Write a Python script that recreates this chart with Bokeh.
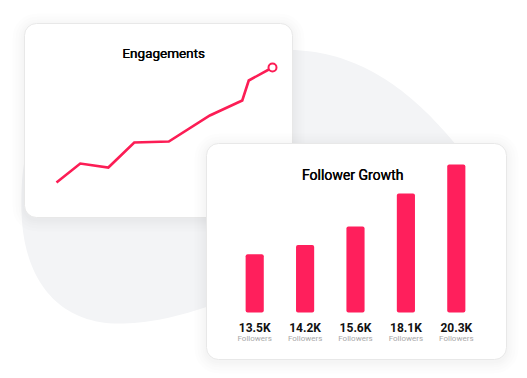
import numpy as np
from bokeh.plotting import figure
from bokeh.models import Range1d
from bokeh.core.properties import value
from bokeh.embed import file_html
from bokeh.resources import INLINE

# ---------------- data ----------------
eng_title = "Engagements"
eng_x = [0, 11, 24, 36, 52, 71, 86, 89, 100]            # time (arbitrary units)
eng_y = [180, 370, 330, 580, 590, 850, 1000, 1200, 1330]  # engagements

fol_title = "Follower Growth"
fol_values = [13.5, 14.2, 15.6, 18.1, 20.3]               # thousands
fol_labels = ["13.5K", "14.2K", "15.6K", "18.1K", "20.3K"]
fol_sub = ["Followers"] * 5

PINK = "#ff1f5c"
LINE = "#fc1d55"
FONT = "Roboto"

W, H = 527, 378
p = figure(width=W, height=H, x_range=Range1d(0, W), y_range=Range1d(H, 0),
           output_backend="svg", toolbar_location=None, min_border=0)
p.axis.visible = False
p.grid.visible = False
p.outline_line_color = None
p.background_fill_color = "white"
p.border_fill_color = "white"

# ---------------- background blob (decoration) ----------------
def bez(p0, c1, c2, p1, n=40):
    t = np.linspace(0, 1, n)[:, None]
    pts = ((1 - t) ** 3) * np.array(p0) + 3 * ((1 - t) ** 2) * t * np.array(c1) \
        + 3 * (1 - t) * t ** 2 * np.array(c2) + t ** 3 * np.array(p1)
    return pts

segs = [
    ((40, 120), (80, 40), (230, 45), (300, 50)),
    ((300, 50), (370, 55), (420, 100), (460, 150)),
    ((460, 150), (500, 200), (470, 250), (300, 275)),
    ((300, 275), (240, 290), (180, 325), (113, 323)),
    ((113, 323), (50, 320), (22, 270), (21, 210)),
    ((21, 210), (20, 170), (25, 140), (40, 120)),
]
blob = np.vstack([bez(*s) for s in segs])
p.patch(blob[:, 0], blob[:, 1], fill_color="#f3f4f6", line_color=None)

# ---------------- cards ----------------
def card(l, r, t, b):
    for g in [12, 9, 6, 4, 2]:
        p.quad(left=l - g, right=r + g, top=t - g + 2, bottom=b + g + 2,
               fill_color="black", fill_alpha=0.007, line_color=None,
               border_radius=12 + g)
    p.quad(left=l, right=r, top=t, bottom=b, fill_color="white",
           line_color="#e8e8e8", line_width=1, border_radius=12)

def title(x, y, txt, size):
    for dx in (0, 0.4):
        p.text(x=[x], y=[y], text=[txt], x_offset=dx, text_font=value(FONT),
               text_font_style="normal", text_font_size=size, text_color="#000000",
               text_align="center", text_baseline="middle")

# Engagements card
card(24, 292, 23, 217)
title(163, 52, eng_title, "13.5px")

ln = p.subplot(x_source=Range1d(0, 100), y_source=Range1d(0, 1500),
               x_target=Range1d(56, 272), y_target=Range1d(200, 50))
ln.line(eng_x, eng_y, line_color=LINE, line_width=2.6, line_join="miter")
ln.scatter(x=eng_x[-1:], y=eng_y[-1:], size=8, marker="circle", fill_color="white",
           line_color=LINE, line_width=2)

# Follower card
card(206, 506, 143, 359)
title(352, 174, fol_title, "14px")

idx = list(range(len(fol_values)))
base = 9.1
br = p.subplot(x_source=Range1d(-0.5, len(fol_values) - 0.5), y_source=Range1d(base, 20.3),
               x_target=Range1d(229, 481), y_target=Range1d(312, 164))
br.vbar(x=idx, top=fol_values, bottom=base, width=0.36, fill_color=PINK,
        line_color=None, border_radius=2)
br.text(x=idx, y=[base] * len(idx), text=fol_labels, y_offset=15, text_font=value(FONT),
        text_font_style="bold", text_font_size="12px", text_color="#111111",
        text_align="center", text_baseline="middle")
br.text(x=idx, y=[base] * len(idx), text=fol_sub, y_offset=26, text_font=value(FONT),
        text_font_size="8px", text_color="#a8a8a8",
        text_align="center", text_baseline="middle")

open("out.html", "w").write(file_html(p, INLINE))
